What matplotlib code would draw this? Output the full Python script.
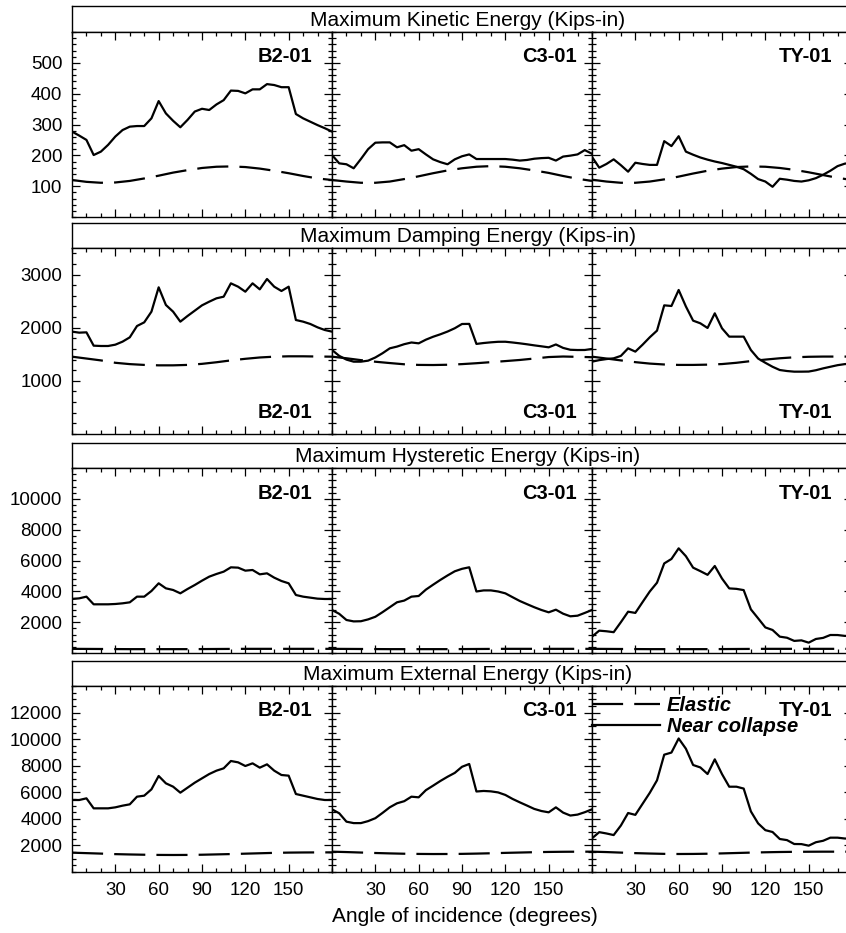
import numpy as np
import matplotlib
matplotlib.use("Agg")
import matplotlib.pyplot as plt
from matplotlib.ticker import FixedLocator, MultipleLocator

plt.rcParams["font.family"] = ["Liberation Sans", "DejaVu Sans"]

W, H = 846, 933

# angle of incidence (degrees)
angles = np.arange(0, 181, 5)
angles_elastic = np.arange(0, 181, 10)
records = ["B2-01", "C3-01", "TY-01"]

# --- Maximum kinetic energy (kips-in) ---
kin_b2 = [277, 264, 250, 201, 212, 234, 261, 282, 293, 295, 295, 320, 376, 336, 312, 291, 315, 342, 351,
          347, 365, 379, 410, 409, 401, 414, 414, 431, 428, 421, 421, 334, 320, 309, 298, 288, 277]
kin_c3 = [201, 174, 171, 158, 188, 220, 241, 242, 242, 226, 233, 215, 220, 203, 187, 178, 171, 187, 197,
          203, 188, 188, 188, 188, 188, 186, 183, 185, 189, 191, 192, 183, 196, 199, 203, 217, 205]
kin_ty = [195, 160, 172, 187, 168, 147, 176, 172, 169, 169, 246, 230, 262, 212, 202, 193, 186, 180, 175,
          169, 163, 155, 140, 123, 115, 98, 124, 121, 117, 115, 119, 126, 137, 150, 165, 173, 176]
kin_el_b2 = [120, 114, 111, 112, 117, 125, 134, 144, 152, 159, 163, 164, 162, 157, 150, 142, 133, 125, 120]
kin_el_c3 = [120, 115, 111, 111, 115, 123, 132, 142, 151, 158, 163, 165, 163, 158, 151, 143, 133, 124, 117]
kin_el_ty = [121, 115, 111, 111, 115, 122, 131, 141, 150, 157, 162, 164, 163, 159, 153, 145, 136, 127, 120]

# --- Maximum damping energy (kips-in) ---
dmp_b2 = [1926, 1907, 1913, 1662, 1656, 1656, 1681, 1738, 1819, 2032, 2101, 2302, 2760, 2428, 2302, 2114,
          2221, 2321, 2421, 2490, 2553, 2584, 2835, 2772, 2678, 2835, 2722, 2917, 2772, 2691, 2772, 2145,
          2114, 2070, 2007, 1957, 1926]
dmp_c3 = [1581, 1470, 1400, 1361, 1361, 1380, 1440, 1520, 1612, 1645, 1690, 1722, 1706, 1775, 1830, 1876,
          1928, 1990, 2070, 2072, 1695, 1712, 1725, 1735, 1736, 1722, 1706, 1688, 1668, 1650, 1631, 1685,
          1620, 1585, 1580, 1581, 1600]
dmp_ty = [1361, 1390, 1410, 1424, 1470, 1612, 1550, 1680, 1820, 1945, 2421, 2409, 2710, 2400, 2133, 2083,
          1995, 2271, 1989, 1832, 1832, 1832, 1580, 1420, 1340, 1265, 1204, 1185, 1173, 1173, 1175, 1200,
          1235, 1265, 1295, 1315, 1325]
dmp_el_b2 = [1455, 1420, 1385, 1340, 1315, 1300, 1292, 1292, 1300, 1320, 1350, 1385, 1415, 1440, 1455,
             1462, 1462, 1458, 1455]
dmp_el_c3 = [1455, 1425, 1390, 1360, 1335, 1312, 1300, 1298, 1303, 1315, 1332, 1352, 1372, 1393, 1420,
             1448, 1458, 1452, 1445]
dmp_el_ty = [1455, 1420, 1385, 1352, 1325, 1308, 1300, 1300, 1305, 1316, 1340, 1372, 1400, 1425, 1443,
             1453, 1457, 1457, 1456]

# --- Maximum hysteretic energy (kips-in) ---
hys_b2 = [3503, 3546, 3655, 3158, 3158, 3158, 3179, 3222, 3287, 3655, 3655, 4022, 4520, 4195, 4087, 3871,
          4152, 4411, 4692, 4952, 5125, 5276, 5557, 5536, 5341, 5384, 5103, 5168, 4887, 4671, 4520, 3763,
          3655, 3590, 3525, 3503, 3503]
hys_c3 = [2790, 2540, 2141, 2050, 2060, 2180, 2350, 2650, 2970, 3290, 3400, 3655, 3698, 4110, 4430, 4740,
          5030, 5300, 5460, 5560, 3990, 4060, 4060, 3990, 3870, 3620, 3374, 3170, 2970, 2790, 2639, 2810,
          2550, 2380, 2420, 2600, 2790]
hys_ty = [1060, 1450, 1410, 1350, 2000, 2680, 2600, 3300, 3990, 4560, 5810, 6100, 6790, 6280, 5535, 5310,
          5070, 5644, 4830, 4190, 4160, 4080, 2830, 2250, 1660, 1493, 1060, 990, 785, 820, 671, 910, 980,
          1168, 1165, 1110, 1100]
hys_el_b2 = [270, 265, 260, 255, 250, 250, 250, 250, 250, 255, 260, 265, 270, 270, 270, 270, 270, 270, 270]
hys_el_c3 = [270, 265, 260, 255, 250, 250, 250, 250, 250, 255, 260, 265, 270, 270, 270, 270, 270, 270, 270]
hys_el_ty = [270, 265, 260, 255, 250, 250, 250, 250, 250, 255, 260, 265, 270, 270, 270, 270, 270, 270, 270]

# --- Maximum external energy (kips-in) ---
ext_b2 = [5419, 5419, 5545, 4792, 4792, 4792, 4867, 4993, 5093, 5670, 5745, 6222, 7226, 6674, 6423, 5971,
          6348, 6724, 7050, 7374, 7627, 7803, 8355, 8254, 7978, 8179, 7853, 8104, 7627, 7301, 7251, 5871,
          5745, 5620, 5495, 5419, 5419]
ext_c3 = [4717, 4420, 3789, 3680, 3680, 3830, 4050, 4450, 4870, 5170, 5330, 5670, 5620, 6160, 6500, 6850,
          7170, 7460, 7920, 8130, 6060, 6100, 6070, 5990, 5800, 5500, 5244, 5000, 4750, 4590, 4491, 4867,
          4470, 4250, 4320, 4500, 4717]
ext_ty = [2534, 3000, 2900, 2780, 3500, 4440, 4300, 5130, 5960, 6900, 8830, 8990, 10050, 9280, 8054, 7870,
          7376, 8480, 7370, 6420, 6420, 6280, 4560, 3660, 3150, 3010, 2484, 2400, 2107, 2100, 1982, 2240,
          2350, 2584, 2584, 2520, 2500]
ext_el_b2 = [1455, 1420, 1385, 1345, 1320, 1300, 1285, 1280, 1285, 1300, 1325, 1350, 1380, 1410, 1440,
             1460, 1470, 1475, 1478]
ext_el_c3 = [1530, 1500, 1465, 1430, 1400, 1375, 1360, 1352, 1355, 1365, 1385, 1410, 1440, 1465, 1490,
             1510, 1522, 1528, 1530]
ext_el_ty = [1530, 1500, 1460, 1420, 1390, 1365, 1355, 1360, 1375, 1400, 1430, 1460, 1485, 1505, 1518,
             1525, 1530, 1530, 1530]

rows = [
    dict(title="Maximum Kinetic Energy (Kips-in)", ymax=600, yticks=[100, 200, 300, 400, 500], yminor=20,
         near=[kin_b2, kin_c3, kin_ty], elastic=[kin_el_b2, kin_el_c3, kin_el_ty], label_top=True),
    dict(title="Maximum Damping Energy (Kips-in)", ymax=3500, yticks=[1000, 2000, 3000], yminor=200,
         near=[dmp_b2, dmp_c3, dmp_ty], elastic=[dmp_el_b2, dmp_el_c3, dmp_el_ty], label_top=False),
    dict(title="Maximum Hysteretic Energy (Kips-in)", ymax=12000, yticks=[2000, 4000, 6000, 8000, 10000],
         yminor=400, near=[hys_b2, hys_c3, hys_ty], elastic=[hys_el_b2, hys_el_c3, hys_el_ty], label_top=True),
    dict(title="Maximum External Energy (Kips-in)", ymax=14000,
         yticks=[2000, 4000, 6000, 8000, 10000, 12000], yminor=500,
         near=[ext_b2, ext_c3, ext_ty], elastic=[ext_el_b2, ext_el_c3, ext_el_ty], label_top=True),
]

# pixel layout: (header top, plot top, plot bottom)
row_px = [(6, 32, 217), (223, 248, 434), (443, 468, 653), (661, 686, 872)]
col_left = [72, 332, 592]
col_w = 260
label_inset = [20, 15, 20]

fig = plt.figure(figsize=(W / 100, H / 100), dpi=100)


def add_px_axes(x0, y0, w, h):
    return fig.add_axes([x0 / W, 1 - (y0 + h) / H, w / W, h / H])


dash = (0, (14, 5))
for r, row in enumerate(rows):
    htop, ptop, pbot = row_px[r]
    hdr = add_px_axes(72, htop, 792, ptop - htop)
    hdr.set_xticks([])
    hdr.set_yticks([])
    for s in hdr.spines.values():
        s.set_linewidth(1.0)
    hdr.text(0.5, 0.45, row["title"], transform=hdr.transAxes, ha="center", va="center", fontsize=15)

    for c in range(3):
        ax = add_px_axes(col_left[c], ptop, col_w, pbot - ptop)
        ax.plot(angles_elastic, row["elastic"][c], color="black", lw=1.6, linestyle=dash, label="Elastic")
        ax.plot(angles, row["near"][c], color="black", lw=1.6, label="Near collapse")
        ax.set_xlim(0, 180)
        ax.set_ylim(0, row["ymax"])
        ax.xaxis.set_major_locator(FixedLocator([30, 60, 90, 120, 150]))
        ax.xaxis.set_minor_locator(MultipleLocator(10))
        ax.yaxis.set_major_locator(FixedLocator(row["yticks"]))
        ax.yaxis.set_minor_locator(MultipleLocator(row["yminor"]))
        ax.tick_params(which="both", direction="in", top=True, right=True, width=0.9,
                       labelsize=13.5, labelleft=(c == 0), labelbottom=(r == 3))
        ax.tick_params(which="major", length=5.5, pad=7)
        ax.tick_params(which="minor", length=3)
        for s in ax.spines.values():
            s.set_linewidth(1.0)

        lx = 1 - label_inset[c] / col_w
        if row["label_top"]:
            ly = 1 - 25 / (pbot - ptop)
        else:
            ly = 21 / (pbot - ptop)
        ax.text(lx, ly, records[c], transform=ax.transAxes, ha="right", va="center",
                fontsize=14.5, fontweight="bold")

        if r == 3 and c == 2:
            ax.legend(loc="upper left", bbox_to_anchor=(0.0, 0.945), frameon=False, borderaxespad=0,
                      borderpad=0, handlelength=3.4, handletextpad=0.3, labelspacing=0.1,
                      prop=dict(size=14.5, weight="bold", style="italic"))

fig.text(465 / W, 1 - 917 / H, "Angle of incidence (degrees)", ha="center", va="center", fontsize=15)

fig.savefig("out.png", dpi=100)
